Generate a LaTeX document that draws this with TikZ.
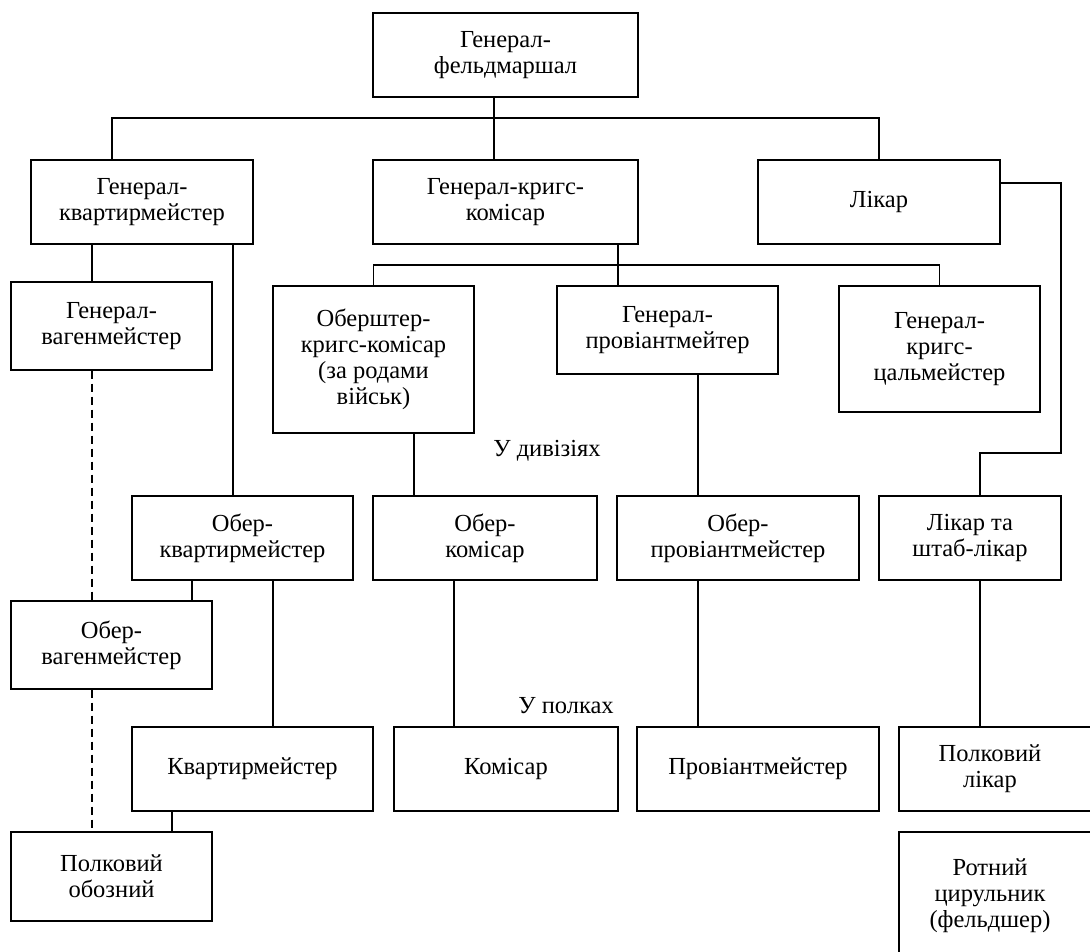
\documentclass[tikz,border=0pt]{standalone}
\usepackage{fontspec}
\setmainfont{Liberation Serif}
\usetikzlibrary{calc}
\begin{document}
\begin{tikzpicture}[x=1pt,y=-1pt,
  every node/.style={font=\fontsize{24.5}{26}\selectfont, inner sep=0pt, align=center},
  box/.style={draw, line width=1.3pt, minimum width=#1},
  conn/.style={line width=1.3pt},
  dsh/.style={line width=1.3pt, dash pattern=on 8pt off 5pt}]
\useasboundingbox (0,0) rectangle (1090,951);
\clip (0,0) rectangle (1090,951);
\fill[white] (0,0) rectangle (1090,951);
% row 1
\node[box=265, minimum height=84] (gfm) at (505.5,55) {Генерал-\\фельдмаршал};
% row 2
\node[box=222, minimum height=84] (gkm) at (142,202) {Генерал-\\квартирмейстер};
\node[box=265, minimum height=84] (gkk) at (505.5,202) {Генерал-кригс-\\комісар};
\node[box=242, minimum height=84] (lik) at (879,202) {Лікар};
% row 3
\node[box=201, minimum height=88] (gwm) at (111.5,326) {Генерал-\\вагенмейстер};
\node[box=201, minimum height=147] (okk) at (373.5,359.5) {Оберштер-\\кригс-комісар\\(за родами\\військ)};
\node[box=221, minimum height=88] (gpm) at (667.5,330) {Генерал-\\провіантмейтер};
\node[box=201, minimum height=126] (gcm) at (939.5,349) {Генерал-\\кригс-\\цальмейстер};
% row 4
\node[box=221, minimum height=84] (okv) at (242.5,538) {Обер-\\квартирмейстер};
\node[box=224, minimum height=84] (oko) at (485,538) {Обер-\\комісар};
\node[box=242, minimum height=84] (opm) at (738,538) {Обер-\\провіантмейстер};
\node[box=182, minimum height=84] (lsl) at (970,538) {Лікар та\\штаб-лікар};
\node[box=201, minimum height=88] (owm) at (111.5,645) {Обер-\\вагенмейстер};
% row 5
\node[box=241, minimum height=84] (kvm) at (252.5,769) {Квартирмейстер};
\node[box=224, minimum height=84] (kom) at (506,769) {Комісар};
\node[box=242, minimum height=84] (prm) at (758,769) {Провіантмейстер};
\node[box=201, minimum height=84] (plk) at (999.5,769) {};
\node at (990,769) {Полковий\\лікар};
\node[box=201, minimum height=89] (pob) at (111.5,876.5) {Полковий\\обозний};
\node[box=201, minimum height=128] (rc) at (999.5,896) {};
\node at (990,896) {Ротний\\цирульник\\(фельдшер)};
% labels
\node (ldiv) at (547,451) {У дивізіях};
\node (lpol) at (566,706) {У полках};
% coordinates
\coordinate (bus1) at (0,118);
\coordinate (bus2) at (0,265);
\coordinate (c92) at (92,0);
\coordinate (c112) at (112,0);
\coordinate (c172) at (172,0);
\coordinate (c192) at (192,0);
\coordinate (c233) at (233,0);
\coordinate (c273) at (273,0);
\coordinate (c414) at (414,0);
\coordinate (c454) at (454,0);
\coordinate (c494) at (494,0);
\coordinate (c618) at (618,0);
\coordinate (c698) at (698,0);
\coordinate (c980) at (980,0);
\coordinate (lr1) at (1061,183);
\coordinate (lr2) at (1061,453);
\coordinate (lr3) at (980,453);
% connectors
\draw[conn] (c494 |- gfm.south) -- (c494 |- gkk.north);
\draw[conn] (c112 |- gkm.north) -- (c112 |- bus1) -- (lik.north |- bus1) -- (lik.north);
\draw[conn] (lik.east |- lr1) -- (lr1) -- (lr2) -- (lr3) -- (c980 |- lsl.north);
\draw[conn] (c92 |- gkm.south) -- (c92 |- gwm.north);
\draw[conn] (c233 |- gkm.south) -- (c233 |- okv.north);
\draw[dsh] (c92 |- gwm.south) -- (c92 |- owm.north);
\draw[dsh] (c92 |- owm.south) -- (c92 |- pob.north);
\draw[conn] (c618 |- gkk.south) -- (c618 |- gpm.north);
\draw[conn] (okk.north) -- (okk.north |- bus2) -- (gcm.north |- bus2) -- (gcm.north);
\draw[conn] (c414 |- okk.south) -- (c414 |- oko.north);
\draw[conn] (c698 |- gpm.south) -- (c698 |- opm.north);
\draw[conn] (c192 |- okv.south) -- (c192 |- owm.north);
\draw[conn] (c273 |- okv.south) -- (c273 |- kvm.north);
\draw[conn] (c454 |- oko.south) -- (c454 |- kom.north);
\draw[conn] (c698 |- opm.south) -- (c698 |- prm.north);
\draw[conn] (c980 |- lsl.south) -- (c980 |- plk.north);
\draw[conn] (c172 |- kvm.south) -- (c172 |- pob.north);
\end{tikzpicture}
\end{document}
